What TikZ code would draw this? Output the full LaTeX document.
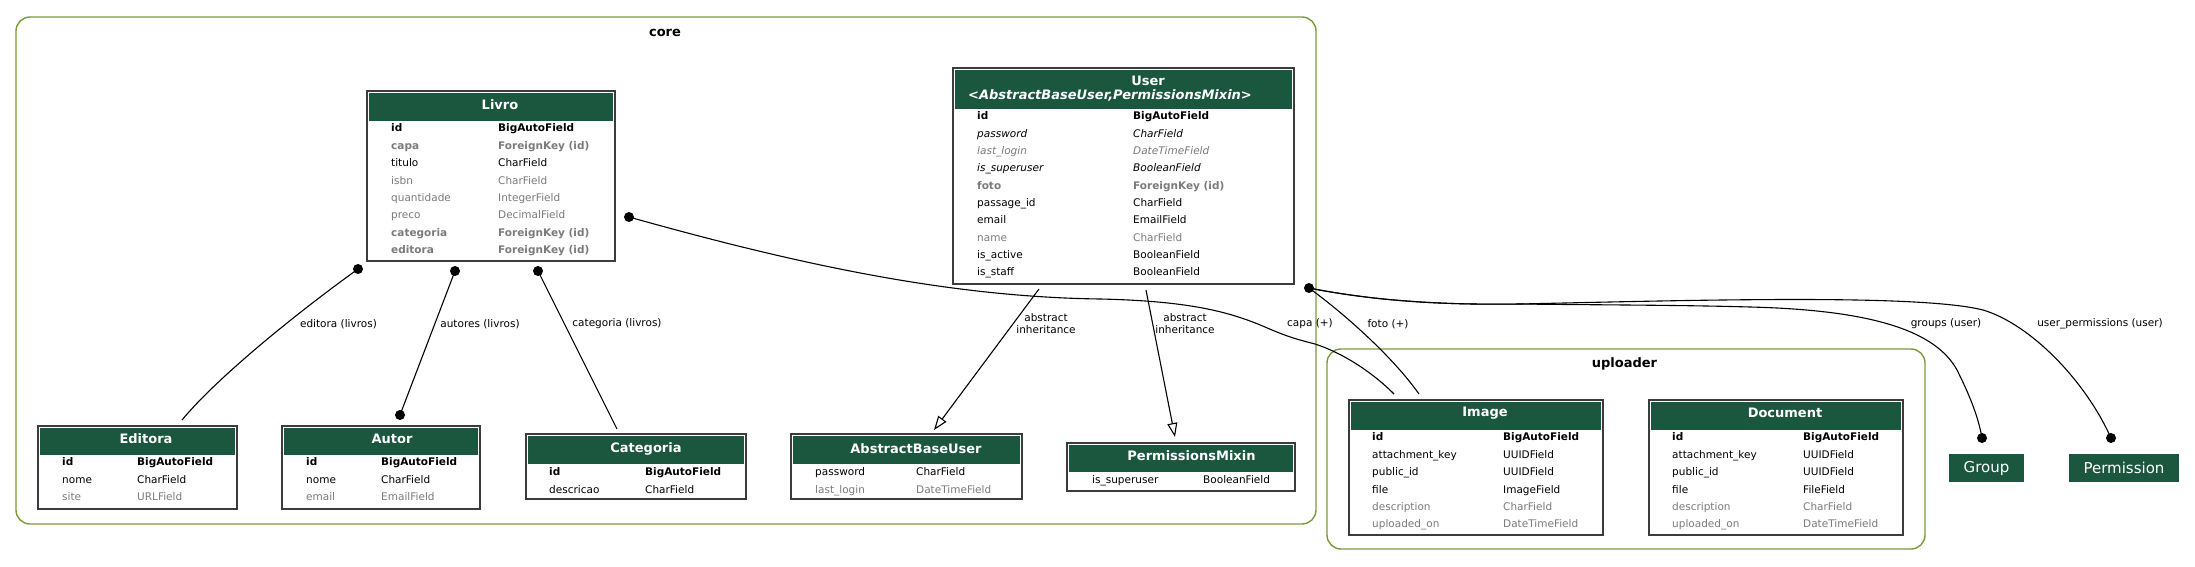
\documentclass[tikz,border=0pt]{standalone}
\usepackage{fontspec}
\setmainfont{DejaVu Sans}
\usetikzlibrary{calc,arrows.meta}
\definecolor{hdrgreen}{HTML}{1B563F}
\definecolor{clusterc}{HTML}{7A9A3A}
\definecolor{fgrey}{HTML}{7B7B7B}
\definecolor{boxline}{HTML}{3C3C3C}
\newcommand\rowfont{\fontsize{10.5}{12.6}\selectfont}
\newcommand\hdrfont{\fontsize{13}{15}\selectfont\bfseries}
\newcount\rowcnt
\newcommand\frow[6]{\global\advance\rowcnt by 1\relax
  \node[cell,#4] (r\the\rowcnt n) at (#1,#3) {#5};
  \node[cell,#4] (r\the\rowcnt t) at (#2,#3) {#6};}
\newcommand\mtable[6]{%
  \node[tbl, minimum width=#4pt, minimum height=#5pt] (#1) at (#2,#3) {};
  \fill[hdrgreen] ($(#1.north west)+(2,2)$) rectangle ($(#1.north east)+(-2,#6)$);}
\tikzset{
  cell/.style={anchor=mid west, inner sep=0pt, font=\rowfont, yshift=-2.2pt},
  pk/.style={font=\rowfont\bfseries},
  fk/.style={font=\rowfont\bfseries, text=fgrey},
  nb/.style={text=fgrey},
  ab/.style={font=\rowfont\itshape},
  abn/.style={font=\rowfont\itshape, text=fgrey},
  pl/.style={},
  tbl/.style={rectangle, draw=boxline, line width=1.3pt, fill=white, anchor=north west, inner sep=0pt, outer sep=0pt},
  htitle/.style={text=white, font=\hdrfont, inner sep=0pt},
  cluster/.style={rectangle, draw=clusterc, line width=1.4pt, rounded corners=14pt, anchor=north west, inner sep=0pt, outer sep=0pt},
  clab/.style={font=\hdrfont, inner sep=0pt},
  conn/.style={draw=black, line width=1.1pt},
  inh/.style={draw=black, line width=1.1pt, -{Triangle[open, length=14pt, width=10pt, line width=1.1pt]}},
  dotn/.style={circle, fill=black, minimum size=10pt, inner sep=0pt},
  elab/.style={font=\rowfont, inner sep=0pt},
  ilab/.style={font=\fontsize{10.5}{12}\selectfont, inner sep=0pt, align=center},
  ext/.style={rectangle, fill=hdrgreen, text=white, font=\fontsize{15}{18}\selectfont, anchor=north west, inner sep=0pt, outer sep=0pt},
}
\begin{document}
\begin{tikzpicture}[x=1pt,y=-1pt]
\useasboundingbox (0,0) rectangle (2195,567);
\fill[white] (0,0) rectangle (2195,567);

% clusters
\node[cluster, minimum width=1300pt, minimum height=507pt] (core) at (16,17) {};
\node[clab] (corelab) at (665,33) {core};
\node[cluster, minimum width=598pt, minimum height=200pt] (uploader) at (1327,349) {};
\node[clab] (uplab) at (1624.5,364) {uploader};

% Livro
\mtable{livro}{367}{91}{248}{170}{30}
\node[htitle] (livrot) at (500,105) {Livro};
\frow{391}{498}{127}{pk}{id}{BigAutoField}
\frow{391}{498}{144.4}{fk}{capa}{ForeignKey (id)}
\frow{391}{498}{161.8}{pl}{titulo}{CharField}
\frow{391}{498}{179.2}{nb}{isbn}{CharField}
\frow{391}{498}{196.6}{nb}{quantidade}{IntegerField}
\frow{391}{498}{214}{nb}{preco}{DecimalField}
\frow{391}{498}{231.4}{fk}{categoria}{ForeignKey (id)}
\frow{391}{498}{248.8}{fk}{editora}{ForeignKey (id)}

% User
\mtable{user}{953}{68}{341}{216}{41}
\node[htitle] (usert) at (1148,81) {User};
\node[htitle, font=\hdrfont\itshape] (usert2) at (1110,95) {<AbstractBaseUser,PermissionsMixin>};
\frow{977}{1133}{115}{pk}{id}{BigAutoField}
\frow{977}{1133}{132.3}{ab}{password}{CharField}
\frow{977}{1133}{149.6}{abn}{last\_login}{DateTimeField}
\frow{977}{1133}{166.9}{ab}{is\_superuser}{BooleanField}
\frow{977}{1133}{184.2}{fk}{foto}{ForeignKey (id)}
\frow{977}{1133}{201.5}{pl}{passage\_id}{CharField}
\frow{977}{1133}{218.8}{pl}{email}{EmailField}
\frow{977}{1133}{236.1}{nb}{name}{CharField}
\frow{977}{1133}{253.4}{pl}{is\_active}{BooleanField}
\frow{977}{1133}{270.7}{pl}{is\_staff}{BooleanField}

% Editora
\mtable{editora}{38}{426}{199}{83}{29}
\node[htitle] (editorat) at (146,439) {Editora};
\frow{62}{137}{461}{pk}{id}{BigAutoField}
\frow{62}{137}{478.5}{pl}{nome}{CharField}
\frow{62}{137}{496}{nb}{site}{URLField}

% Autor
\mtable{autor}{282}{426}{198}{83}{29}
\node[htitle] (autort) at (392,439) {Autor};
\frow{306}{381}{461}{pk}{id}{BigAutoField}
\frow{306}{381}{478.5}{pl}{nome}{CharField}
\frow{306}{381}{496}{nb}{email}{EmailField}

% Categoria
\mtable{categoria}{526}{434}{220}{65}{30}
\node[htitle] (categoriat) at (646,449) {Categoria};
\frow{549}{645}{471}{pk}{id}{BigAutoField}
\frow{549}{645}{488.5}{pl}{descricao}{CharField}

% AbstractBaseUser
\mtable{abu}{791}{434}{231}{65}{30}
\node[htitle] (abut) at (916,449) {AbstractBaseUser};
\frow{815}{916}{471}{pl}{password}{CharField}
\frow{815}{916}{488.5}{nb}{last\_login}{DateTimeField}

% PermissionsMixin
\mtable{pm}{1067}{443}{228}{48}{29}
\node[htitle] (pmt) at (1191.5,456) {PermissionsMixin};
\frow{1092}{1203}{479}{pl}{is\_superuser}{BooleanField}

% Image
\mtable{image}{1349}{400}{254}{135}{30}
\node[htitle] (imaget) at (1485,413) {Image};
\frow{1372}{1503}{436}{pk}{id}{BigAutoField}
\frow{1372}{1503}{453.4}{pl}{attachment\_key}{UUIDField}
\frow{1372}{1503}{470.8}{pl}{public\_id}{UUIDField}
\frow{1372}{1503}{488.2}{pl}{file}{ImageField}
\frow{1372}{1503}{505.6}{nb}{description}{CharField}
\frow{1372}{1503}{523}{nb}{uploaded\_on}{DateTimeField}

% Document
\mtable{document}{1649}{400}{254}{135}{30}
\node[htitle] (documentt) at (1785,413) {Document};
\frow{1672}{1803}{436}{pk}{id}{BigAutoField}
\frow{1672}{1803}{453.4}{pl}{attachment\_key}{UUIDField}
\frow{1672}{1803}{470.8}{pl}{public\_id}{UUIDField}
\frow{1672}{1803}{488.2}{pl}{file}{FileField}
\frow{1672}{1803}{505.6}{nb}{description}{CharField}
\frow{1672}{1803}{523}{nb}{uploaded\_on}{DateTimeField}

% external
\node[ext, minimum width=75pt, minimum height=28pt] (group) at (1949,454) {Group};
\node[ext, minimum width=110pt, minimum height=28pt] (permission) at (2069,454) {Permission};

% dots
\node[dotn] (d1) at ($(livro.south west)+(-9,8)$) {};
\node[dotn] (d2) at ($(livro.south west)+(88,10)$) {};
\node[dotn] (d2b) at ($(autor.north west)+(118,-11)$) {};
\node[dotn] (d3) at ($(livro.south west)+(171,10)$) {};
\node[dotn] (d4) at ($(livro.north east)+(14,126)$) {};
\node[dotn] (d5) at ($(user.south east)+(15,4)$) {};
\node[dotn] (d6) at ($(group.north west)+(33,-16)$) {};
\node[dotn] (d7) at ($(permission.north west)+(42,-16)$) {};
\coordinate (e1) at ($(editora.north west)+(144,-6)$);
\coordinate (e3) at ($(categoria.north west)+(91,-5)$);
\coordinate (e4) at ($(image.north west)+(45,-6)$);
\coordinate (e5) at ($(image.north west)+(70,-6)$);
\coordinate (s8) at ($(user.south west)+(86,5)$);
\coordinate (t8) at ($(abu.north west)+(143,-4)$);
\coordinate (s9) at ($(user.south west)+(193,6)$);
\coordinate (t9) at ($(pm.north west)+(108,-6)$);

% connectors
\draw[conn] (d1.center) .. controls (290,318) and (215,380) .. (e1);
\draw[conn] (d2.center) -- (d2b.center);
\draw[conn] (d3.center) -- (e3);
\draw[conn] (d4.center) .. controls (800,265) and (950,297) .. (1100,299)
  .. controls (1190,301) and (1230,312) .. (1265,327)
  .. controls (1290,338) and (1300,340) .. (1315,344)
  .. controls (1340,352) and (1370,370) .. (e4);
\draw[conn] (d5.center) .. controls (1350,318) and (1395,360) .. (e5);
\draw[conn] (d5.center) .. controls (1380,302) and (1450,305) .. (1520,304)
  .. controls (1600,305) and (1680,305) .. (1750,307)
  .. controls (1870,310) and (1935,330) .. (1957,370)
  .. controls (1968,392) and (1978,415) .. (d6.center);
\draw[conn] (d5.center) .. controls (1380,302) and (1450,305) .. (1520,304)
  .. controls (1700,300) and (1920,294) .. (1983,310)
  .. controls (2030,324) and (2085,380) .. (d7.center);
\draw[inh] (s8) -- (t8);
\draw[inh] (s9) -- (t9);

% edge labels
\node[elab] (l1) at (338.5,324) {editora (livros)};
\node[elab] (l2) at (480,324) {autores (livros)};
\node[elab] (l3) at (617,324) {categoria (livros)};
\node[elab] (l4) at (1310,324) {capa (+)};
\node[elab] (l5) at (1388,324) {foto (+)};
\node[elab] (l6) at (1946,324) {groups (user)};
\node[elab] (l7) at (2100,324) {user\_permissions (user)};
\node[ilab] (l8) at (1046,324) {abstract\\inheritance};
\node[ilab] (l9) at (1185,324) {abstract\\inheritance};
\end{tikzpicture}
\end{document}
